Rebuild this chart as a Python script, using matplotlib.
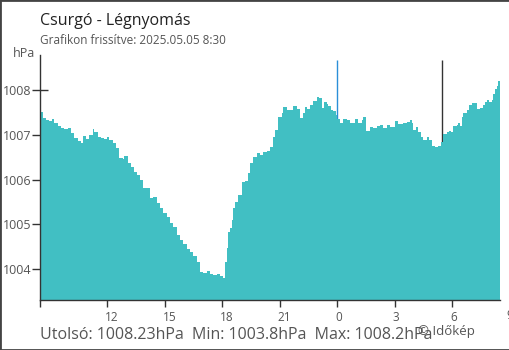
import matplotlib
matplotlib.use('Agg')
import matplotlib.pyplot as plt
from matplotlib.patches import Rectangle
import matplotlib.transforms as mtransforms

plt.rcParams['font.family'] = ['Open Sans', 'DejaVu Sans']

# hours since 8:30 on the first day, pressure in hPa
hours = [0.00, 0.16, 0.31, 0.47, 0.63, 0.73, 0.94, 1.10, 1.25, 1.46, 1.62, 1.77,
         1.98, 2.14, 2.24, 2.40, 2.56, 2.77, 2.82, 3.03, 3.18, 3.34, 3.50, 3.60,
         3.81, 3.97, 4.12, 4.33, 4.38, 4.59, 4.75, 4.90, 5.04, 5.22, 5.39, 5.57,
         5.74, 5.91, 6.09, 6.26, 6.43, 6.61, 6.78, 6.95, 7.13, 7.30, 7.48, 7.65,
         7.83, 8.00, 8.18, 8.35, 8.52, 8.70, 8.87, 9.04, 9.22, 9.39, 9.53, 9.65,
         9.74, 9.82, 9.90, 10.00, 10.09, 10.17, 10.35, 10.52, 10.70, 10.87, 10.96,
         11.13, 11.31, 11.48, 11.65, 11.83, 12.00, 12.17, 12.26, 12.43, 12.61,
         12.69, 12.87, 13.04, 13.22, 13.39, 13.57, 13.71, 13.83, 13.95, 14.09,
         14.26, 14.44, 14.57, 14.70, 14.82, 14.96, 15.04, 15.17, 15.30, 15.43,
         15.51, 15.65, 15.82, 16.00, 16.17, 16.35, 16.43, 16.61, 16.78, 16.87,
         17.01, 17.22, 17.39, 17.57, 17.74, 17.91, 18.09, 18.26, 18.52, 18.69,
         18.95, 19.13, 19.28, 19.39, 19.48, 19.62, 19.74, 19.86, 20.00, 20.18,
         20.31, 20.44, 20.61, 20.78, 20.91, 21.04, 21.22, 21.36, 21.43, 21.56,
         21.74, 21.83, 21.91, 22.00, 22.09, 22.26, 22.40, 22.52, 22.70, 22.82,
         22.96, 23.10, 23.22, 23.34, 23.44, 23.57, 23.65, 23.74, 23.83, 23.91,
         24.00]
pressure = [1007.51, 1007.37, 1007.33, 1007.31, 1007.35, 1007.26, 1007.20, 1007.15,
            1007.13, 1007.15, 1007.04, 1006.93, 1006.86, 1006.82, 1006.97, 1006.91,
            1006.99, 1007.13, 1007.06, 1006.95, 1006.93, 1006.91, 1006.95, 1006.88,
            1006.82, 1006.70, 1006.48, 1006.46, 1006.53, 1006.37, 1006.28, 1006.17,
            1006.10, 1006.00, 1005.82, 1005.80, 1005.58, 1005.60, 1005.48, 1005.36,
            1005.26, 1005.16, 1005.03, 1004.93, 1004.76, 1004.65, 1004.56, 1004.44,
            1004.39, 1004.29, 1004.16, 1003.94, 1003.92, 1003.96, 1003.90, 1003.87,
            1003.88, 1003.85, 1003.81, 1004.16, 1004.46, 1004.83, 1004.91, 1005.09,
            1005.36, 1005.50, 1005.65, 1005.95, 1005.97, 1006.14, 1006.36, 1006.50,
            1006.59, 1006.55, 1006.62, 1006.64, 1006.73, 1006.96, 1007.11, 1007.40,
            1007.48, 1007.63, 1007.55, 1007.55, 1007.64, 1007.57, 1007.37, 1007.48,
            1007.63, 1007.57, 1007.67, 1007.75, 1007.84, 1007.81, 1007.59, 1007.72,
            1007.69, 1007.64, 1007.55, 1007.52, 1007.44, 1007.35, 1007.27, 1007.35,
            1007.33, 1007.26, 1007.27, 1007.35, 1007.27, 1007.33, 1007.39, 1007.09,
            1007.18, 1007.14, 1007.20, 1007.22, 1007.14, 1007.22, 1007.18, 1007.31,
            1007.24, 1007.26, 1007.28, 1007.33, 1007.26, 1007.11, 1007.17, 1007.07,
            1006.94, 1006.88, 1006.94, 1006.88, 1006.75, 1006.72, 1006.75, 1006.84,
            1007.02, 1007.05, 1007.09, 1007.07, 1007.20, 1007.21, 1007.26, 1007.20,
            1007.39, 1007.49, 1007.55, 1007.66, 1007.70, 1007.70, 1007.57, 1007.59,
            1007.66, 1007.74, 1007.78, 1007.74, 1007.78, 1007.91, 1008.02, 1008.09,
            1008.21, 1008.23]

tick_hours = [0, 3.5, 6.5, 9.5, 12.5, 15.5, 18.5, 21.5]
tick_labels = ['', '12', '15', '18', '21', '0', '3', '6']
y_ticks = [1004, 1005, 1006, 1007, 1008]
midnight = 15.5
sunrise = 20.97

title = 'Csurgó - Légnyomás'
subtitle = 'Grafikon frissítve: 2025.05.05 8:30'
stats = 'Utolsó: 1008.23hPa  Min: 1003.8hPa  Max: 1008.2hPa'

W, H = 510, 350
fill_color = '#41bfc3'
axis_color = '#333333'
text_grey = '#555555'

fig = plt.figure(figsize=(W / 100, H / 100), dpi=100)
ax = fig.add_axes([40 / W, 1 - 300 / H, 460 / W, 245 / H])
ymin, ymax = 1003.31, 1008.78

ax.vlines([midnight], ymin, 1008.67, color='#2b8fd8', lw=1, zorder=1)
ax.vlines([sunrise], ymin, 1008.67, color='#333333', lw=1, zorder=1)
ax.fill_between(hours, pressure, ymin, step='post', color=fill_color, lw=0,
                antialiased=False, zorder=2)

ax.set_xlim(0, 24)
ax.set_ylim(ymin, ymax)
for s in ['top', 'right']:
    ax.spines[s].set_visible(False)
for s in ['left', 'bottom']:
    ax.spines[s].set_color(axis_color)
    ax.spines[s].set_linewidth(1)

ax.set_xticks(tick_hours)
ax.set_xticklabels(tick_labels, fontsize=8.5, color=text_grey, ha='left')
ax.tick_params(axis='x', direction='out', length=5, width=1, color=axis_color, pad=3)
offset = mtransforms.ScaledTranslation(-2 / 100, 0, fig.dpi_scale_trans)
for lbl in ax.get_xticklabels():
    lbl.set_transform(lbl.get_transform() + offset)
ax.get_xticklines()[10].set_color('#2b8fd8')

ax.set_yticks(y_ticks)
ax.set_yticklabels([str(v) for v in y_ticks], fontsize=9, color=text_grey)
ax.tick_params(axis='y', direction='inout', length=12, width=1, color=axis_color, pad=0)

def px(x, y):
    return x / W, 1 - y / H

fig.text(*px(506, 319), '9', fontsize=8.5, color=text_grey, ha='left', va='baseline')
fig.text(*px(40, 25), title, fontsize=11.5, color='#222222', va='baseline')
fig.text(*px(40, 44.5), subtitle, fontsize=8.5, color=text_grey, va='baseline')
fig.text(*px(35, 57), 'hPa', fontsize=9, color=text_grey, ha='right', va='baseline')
fig.text(*px(40, 339), stats, fontsize=11.5, color=text_grey, va='baseline')
fig.text(*px(418, 335), '© Időkép', fontsize=9.5, color=text_grey, va='baseline')

fig.add_artist(Rectangle((0, 0), 1, 1, transform=fig.transFigure, fill=False,
                         edgecolor='#444444', lw=2, clip_on=False))

fig.savefig('out.png', dpi=100)
